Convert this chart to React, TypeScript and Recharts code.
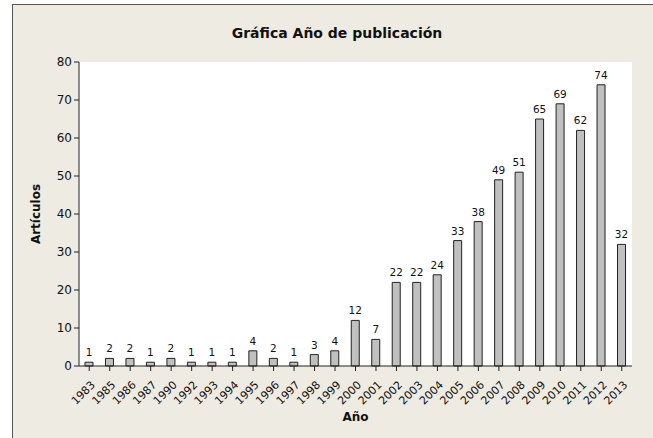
import React from "react";
import { BarChart, Bar, XAxis, YAxis, CartesianGrid, LabelList, Label } from "recharts";

const years = ["1983","1985","1986","1987","1990","1992","1993","1994","1995","1996","1997","1998","1999","2000","2001","2002","2003","2004","2005","2006","2007","2008","2009","2010","2011","2012","2013"];
const articles = [1,2,2,1,2,1,1,1,4,2,1,3,4,12,7,22,22,24,33,38,49,51,65,69,62,74,32];
const yTicks = [0,10,20,30,40,50,60,70,80];

const data = years.map((y, i) => ({ year: y, value: articles[i] }));

const FONT = "'DejaVu Sans', Tahoma, sans-serif";

const XTick = (props: any) => {
  const { x, y, payload } = props;
  const tx = x + 4;
  const ty = y + 10;
  return (
    <text x={tx} y={ty} transform={`rotate(-45, ${tx}, ${ty})`} textAnchor="end" dominantBaseline="central" fontSize={11} fontFamily={FONT} fill="#111">
      {payload.value}
    </text>
  );
};

export default function App() {
  return (
    <div style={{ position: "absolute", left: 0, top: 0, width: 653, height: 438, background: "#ffffff", overflow: "hidden" }}>
      <div style={{ position: "absolute", left: 12, top: 4, width: 660, height: 450, background: "#eeebe2", borderLeft: "1.5px solid #555", borderTop: "1.5px solid #555" }} />
      <div style={{ position: "absolute", left: 0, top: 0 }}>
        <BarChart width={653} height={438} data={data} margin={{ top: 62, right: 21, left: 0, bottom: 0 }} barSize={8}>
          <CartesianGrid horizontal={false} vertical={false} fill="#ffffff" />
          <XAxis dataKey="year" interval={0} tick={<XTick />} tickSize={5} height={72} axisLine={{ stroke: "#222" }} tickLine={{ stroke: "#222" }}>
            <Label value="Año" position="insideBottom" offset={17} style={{ fontFamily: FONT, fontSize: 12, fontWeight: "bold", fill: "#111" }} />
          </XAxis>
          <XAxis xAxisId="top" orientation="top" dataKey="year" tick={false} tickLine={false} height={0} axisLine={{ stroke: "#555" }} />
          <YAxis domain={[0, 80]} ticks={yTicks} width={79} tickSize={5} axisLine={{ stroke: "#222" }} tickLine={{ stroke: "#222" }} tick={{ fontFamily: FONT, fontSize: 12, fill: "#111" }} interval={0}>
            <Label value="Artículos" angle={-90} position="insideLeft" offset={36} style={{ fontFamily: FONT, fontSize: 12, fontWeight: "bold", fill: "#111", textAnchor: "middle" }} />
          </YAxis>
          <YAxis yAxisId="right" orientation="right" domain={[0, 80]} tick={false} tickLine={false} width={0} axisLine={{ stroke: "#555" }} />
          <Bar dataKey="value" fill="#c0c0c0" stroke="#222" strokeWidth={1} isAnimationActive={false}>
            <LabelList dataKey="value" position="top" offset={6} style={{ fontFamily: FONT, fontSize: 10.5, fill: "#111" }} />
          </Bar>
        </BarChart>
      </div>
      <div style={{ position: "absolute", left: 212, top: 25, width: 250, textAlign: "center", fontFamily: FONT, fontSize: 14, fontWeight: "bold", color: "#111", whiteSpace: "nowrap" }}>
        Gráfica Año de publicación
      </div>
    </div>
  );
}
